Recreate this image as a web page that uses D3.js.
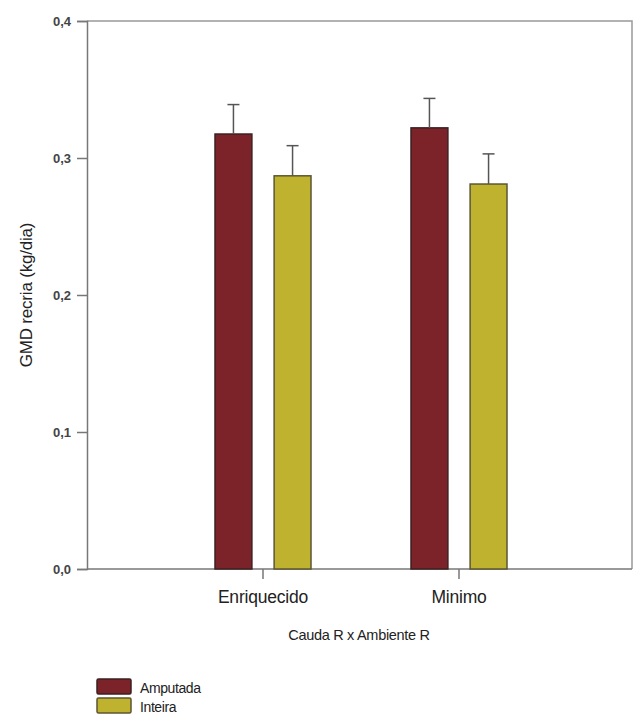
<!DOCTYPE html>
<html>
<head>
<meta charset="utf-8">
<script src="https://cdn.jsdelivr.net/npm/d3@7"></script>
<style>
  body { margin: 0; background: #fff; }
  svg { font-family: "Liberation Sans", Arial, sans-serif; }
</style>
</head>
<body>
<svg id="chart"></svg>
<script>
// data
var categories = ["Enriquecido", "Minimo"];
var series = ["Amputada", "Inteira"];
var amputada = [0.3175, 0.322];
var inteira = [0.287, 0.281];
var amputadaErr = [0.0215, 0.0215];
var inteiraErr = [0.022, 0.022];
var yTicks = [0, 0.1, 0.2, 0.3, 0.4];
var colors = ["#7b2328", "#bfb22f"];
var strokes = ["#3d2022", "#5c5632"];

var width = 634;
var height = 718;
var plot = { left: 87, right: 632, top: 21, bottom: 569 };

var rows = [];
categories.forEach(function(c, i) {
  rows.push({ cat: c, s: series[0], v: amputada[i], e: amputadaErr[i] });
  rows.push({ cat: c, s: series[1], v: inteira[i], e: inteiraErr[i] });
});

var svg = d3.select("#chart")
  .attr("width", width)
  .attr("height", height);

var yScale = d3.scaleLinear().domain([0, 0.4]).range([plot.bottom, plot.top]);
var xScale = d3.scaleBand().domain(categories).range([165, 557]).padding(0);
var xInner = d3.scaleBand().domain(series).range([-48, 48]).paddingInner(0.376).paddingOuter(0);

// frame top / right
svg.append("path")
  .attr("d", "M" + plot.left + "," + plot.top + "H" + plot.right + "V" + plot.bottom)
  .attr("fill", "none")
  .attr("stroke", "#999")
  .attr("stroke-width", 1.5);

// y axis
var yAxis = svg.append("g")
  .attr("transform", "translate(" + plot.left + ",0)")
  .call(d3.axisLeft(yScale).tickValues(yTicks).tickSize(10).tickPadding(6)
    .tickFormat(function(d) { return d3.format(".1f")(d).replace(".", ","); }));
yAxis.select(".domain").attr("stroke", "#777").attr("stroke-width", 1.5);
yAxis.selectAll(".tick line").attr("stroke", "#777").attr("stroke-width", 1.5);
yAxis.selectAll("text")
  .attr("fill", "#444")
  .style("font-size", "13px")
  .style("font-weight", "bold");

// x axis
var xAxis = svg.append("g")
  .attr("transform", "translate(0," + plot.bottom + ")")
  .call(d3.axisBottom(xScale).tickSize(10).tickPadding(12).tickSizeOuter(0));
xAxis.select(".domain")
  .attr("d", "M" + plot.left + ",0H" + plot.right)
  .attr("stroke", "#777").attr("stroke-width", 1.5);
xAxis.selectAll(".tick line").attr("stroke", "#777").attr("stroke-width", 1.5);
xAxis.selectAll("text")
  .attr("fill", "#222")
  .style("font-size", "17.5px")
  .style("letter-spacing", "-0.2px");

// bars
svg.append("g").selectAll("rect")
  .data(rows)
  .enter()
  .append("rect")
  .attr("x", function(d) { return xScale(d.cat) + xScale.bandwidth() / 2 + xInner(d.s); })
  .attr("y", function(d) { return yScale(d.v); })
  .attr("width", xInner.bandwidth())
  .attr("height", function(d) { return yScale(0) - yScale(d.v); })
  .attr("fill", function(d) { return colors[series.indexOf(d.s)]; })
  .attr("stroke", function(d) { return strokes[series.indexOf(d.s)]; })
  .attr("stroke-width", 1.5);

// error bars
var err = svg.append("g").selectAll("g")
  .data(rows)
  .enter()
  .append("g")
  .attr("transform", function(d) {
    return "translate(" + (xScale(d.cat) + xScale.bandwidth() / 2 + xInner(d.s) + xInner.bandwidth() / 2) + ",0)";
  });
err.append("line")
  .attr("x1", 0).attr("x2", 0)
  .attr("y1", function(d) { return yScale(d.v); })
  .attr("y2", function(d) { return yScale(d.v + d.e); })
  .attr("stroke", "#555").attr("stroke-width", 1.5);
err.append("line")
  .attr("x1", -6).attr("x2", 6)
  .attr("y1", function(d) { return yScale(d.v + d.e); })
  .attr("y2", function(d) { return yScale(d.v + d.e); })
  .attr("stroke", "#555").attr("stroke-width", 1.5);

// axis titles
svg.append("text")
  .attr("x", 359)
  .attr("y", 640)
  .attr("text-anchor", "middle")
  .attr("fill", "#222")
  .style("font-size", "14.5px")
  .style("letter-spacing", "-0.3px")
  .text("Cauda R x Ambiente R");

svg.append("text")
  .attr("transform", "translate(32,295) rotate(-90)")
  .attr("text-anchor", "middle")
  .attr("fill", "#222")
  .style("font-size", "17px")
  .style("letter-spacing", "-0.2px")
  .text("GMD recria (kg/dia)");

// legend
var legend = svg.append("g").selectAll("g")
  .data(series)
  .enter()
  .append("g")
  .attr("transform", function(d, i) { return "translate(97," + (679 + i * 19) + ")"; });
legend.append("rect")
  .attr("width", 34).attr("height", 15)
  .attr("rx", 1.5)
  .attr("fill", function(d, i) { return colors[i]; })
  .attr("stroke", function(d, i) { return strokes[i]; })
  .attr("stroke-width", 1.5);
legend.append("text")
  .attr("x", 43).attr("y", 14)
  .attr("fill", "#222")
  .style("font-size", "14px")
  .style("letter-spacing", "-0.4px")
  .text(function(d) { return d; });
</script>
</body>
</html>
